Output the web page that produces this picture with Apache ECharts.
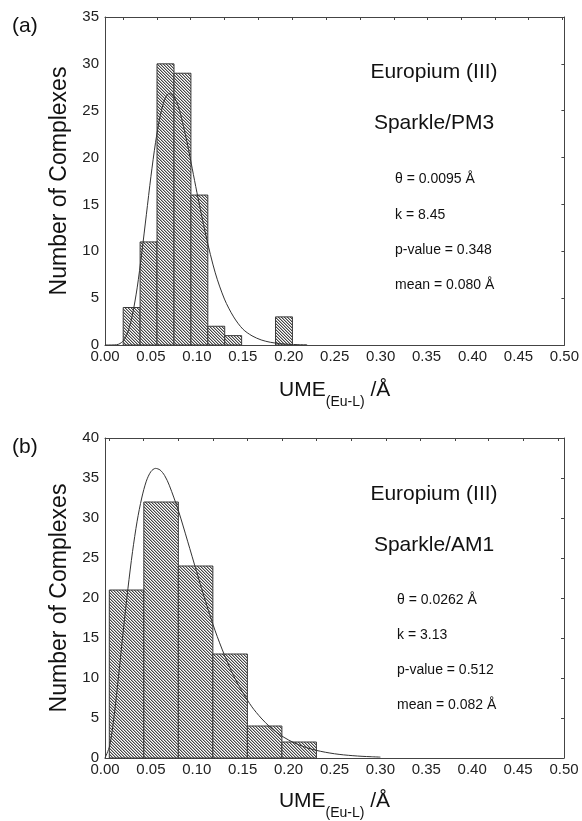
<!DOCTYPE html>
<html><head><meta charset="utf-8">
<script src="https://cdn.jsdelivr.net/npm/echarts@6/dist/echarts.min.js"></script>
<style>html,body{margin:0;padding:0;background:#fff}#c{width:582px;height:821px}</style>
</head><body><div id="c"></div>
<script>
// ---------- data ----------
const xTickLabels = ['0.00','0.05','0.10','0.15','0.20','0.25','0.30','0.35','0.40','0.45','0.50'];
const yTicksA = [0,5,10,15,20,25,30,35];
const yTicksB = [0,5,10,15,20,25,30,35,40];

// (a) Sparkle/PM3 histogram
const binEdgesA = [0.0198,0.0382,0.0566,0.0751,0.0935,0.1119,0.1303,0.1487,0.1672,0.1856,0.2040];
const countsA   = [4,11,30,29,16,2,1,0,0,3];
// (a) fitted curve
const curveAX = [0.000,0.010,0.015,0.020,0.025,0.030,0.035,0.040,0.045,0.050,0.055,0.060,0.065,0.070,0.075,0.080,0.085,0.090,0.095,0.100,0.110,0.120,0.130,0.140,0.150,0.160,0.170,0.180,0.190,0.200,0.210,0.220];
const curveAY = [0,0.01,0.09,0.46,1.4,3.3,6.1,9.8,13.9,18.0,21.6,24.4,26.2,26.85,26.5,25.4,23.5,21.3,18.8,16.3,11.6,7.7,4.9,3.0,1.7,0.98,0.54,0.29,0.15,0.08,0.04,0.02];
const topTicksA = [0.020,0.057,0.093,0.130,0.167,0.204,0.241,0.278,0.315,0.351,0.388,0.425,0.461,0.498];

// (b) Sparkle/AM1 histogram
const binEdgesB = [0.0047,0.0423,0.0799,0.1175,0.1551,0.1927,0.2303];
const countsB   = [21,32,24,13,4,2];
const curveBX = [0,0.005,0.01,0.015,0.02,0.025,0.03,0.035,0.04,0.045,0.05,0.055,0.06,0.065,0.07,0.08,0.09,0.10,0.11,0.12,0.13,0.14,0.15,0.16,0.17,0.18,0.19,0.20,0.21,0.22,0.23,0.24,0.25,0.26,0.27,0.28,0.29,0.30];
const curveBY = [0,1.5,5.3,10.5,16.0,21.2,25.8,29.6,32.5,34.6,35.8,36.2,36.0,35.3,34.1,30.9,27.1,23.2,19.4,15.9,12.9,10.3,8.2,6.4,5.0,3.85,2.95,2.25,1.7,1.28,0.96,0.72,0.53,0.39,0.29,0.21,0.16,0.11];
const topTicksB = [0.005,0.042,0.080,0.118,0.155,0.193,0.230,0.268,0.306,0.343,0.381,0.418,0.456,0.494];

const textA = ['Europium (III)','Sparkle/PM3','\u03b8 = 0.0095 \u00c5','k = 8.45','p-value = 0.348','mean = 0.080 \u00c5'];
const textB = ['Europium (III)','Sparkle/AM1','\u03b8 = 0.0262 \u00c5','k = 3.13','p-value = 0.512','mean = 0.082 \u00c5'];

// ---------- hatch pattern ----------
const pc = document.createElement('canvas');
pc.width = 3; pc.height = 3;
const pctx = pc.getContext('2d');
const img = pctx.createImageData(3,3);
for (let y=0;y<3;y++) for (let x=0;x<3;x++){
  const d = ((x - y) % 3 + 3) % 3;
  const v = d===0 ? 70 : (d===1 ? 175 : 255);
  const k = (y*3+x)*4;
  img.data[k]=v; img.data[k+1]=v; img.data[k+2]=v; img.data[k+3]=255;
}
pctx.putImageData(img,0,0);
const hatch = {image: pc, repeat: 'repeat'};

const FONT = 'Liberation Sans, Arial, sans-serif';
const AX = '#444';

function bars(edges, counts){ return counts.map((c,i)=>[edges[i],edges[i+1],c]).filter(d=>d[2]>0); }
function pairs(xs, ys){ return xs.map((x,i)=>[x,ys[i]]); }
function renderBar(params, api){
  const p0 = api.coord([api.value(0), api.value(2)]);
  const p1 = api.coord([api.value(1), 0]);
  return {type:'rect', shape:{x:p0[0], y:p0[1], width:p1[0]-p0[0], height:p1[1]-p0[1]},
    style:{fill:hatch, stroke:'#3a3a3a', lineWidth:1}};
}

const xName = '{a|UME}{s|(Eu-L)}{a| /\u00c5}';
const xNameStyle = {
  rich:{
    a:{fontSize:21, fontFamily:FONT, color:'#111', lineHeight:24, padding:[0,0,8,0], verticalAlign:'bottom'},
    s:{fontSize:14, fontFamily:FONT, color:'#111', lineHeight:16, verticalAlign:'bottom'}
  }
};

function xBottom(grid, gap){
  return {gridIndex:grid, type:'value', min:0, max:0.5, interval:0.05, position:'bottom',
    axisLine:{show:true, onZero:false, lineStyle:{color:AX, width:1}}, axisTick:{show:false}, splitLine:{show:false},
    axisLabel:{fontSize:15, fontFamily:FONT, color:'#222', margin:4, showMaxLabel:true,
      formatter:(v)=>xTickLabels[Math.round(v/0.05)]},
    name:xName, nameLocation:'middle', nameGap:gap, nameTextStyle:xNameStyle};
}
function xTop(grid, ticks){
  return {gridIndex:grid, type:'value', min:0, max:0.5, position:'top',
    axisLine:{show:true, onZero:false, lineStyle:{color:AX, width:1}},
    axisTick:{show:true, inside:true, length:3, lineStyle:{color:AX}, customValues:ticks},
    axisLabel:{show:false}, splitLine:{show:false}};
}
function yLeft(grid, ticks){
  return {gridIndex:grid, type:'value', min:0, max:ticks[ticks.length-1], interval:5, position:'left',
    axisLine:{show:true, onZero:false, lineStyle:{color:AX, width:1}}, axisTick:{show:false}, splitLine:{show:false},
    axisLabel:{fontSize:15, fontFamily:FONT, color:'#222', margin:6},
    name:'Number of Complexes', nameLocation:'middle', nameGap:28,
    nameTextStyle:{fontSize:23, fontFamily:FONT, color:'#111'}};
}
function yRight(grid, ticks){
  return {gridIndex:grid, type:'value', min:0, max:ticks[ticks.length-1], interval:5, position:'right',
    axisLine:{show:true, onZero:false, lineStyle:{color:AX, width:1}},
    axisTick:{show:true, inside:true, length:3, lineStyle:{color:AX}},
    axisLabel:{show:false}, splitLine:{show:false}};
}

function annot(texts, x0, ys, xs){
  const out = [];
  texts.forEach((t,i)=>{
    const big = i<2;
    out.push({type:'text', x: big ? x0 : xs, y: ys[i],
      style:{text:t, font: (big?'21px ':'14px ')+FONT, fill:'#111',
        textAlign: big?'center':'left', textVerticalAlign:'middle'}});
  });
  return out;
}

const chart = echarts.init(document.getElementById('c'), null, {renderer:'canvas'});
chart.setOption({
  animation:false,
  backgroundColor:'#fff',
  grid:[
    {left:105, top:17, width:462, height:328},
    {left:105, top:438, width:459, height:327}
  ],
  xAxis:[ xBottom(0,40), xTop(0, topTicksA), xBottom(1,38), xTop(1, topTicksB) ],
  yAxis:[ yLeft(0, yTicksA), yRight(0, yTicksA), yLeft(1, yTicksB), yRight(1, yTicksB) ],
  series:[
    {type:'custom', xAxisIndex:0, yAxisIndex:0, renderItem:renderBar, data:bars(binEdgesA,countsA), z:2},
    {type:'line', xAxisIndex:0, yAxisIndex:0, data:pairs(curveAX,curveAY), smooth:0.3, symbol:'none',
      lineStyle:{color:'#333', width:1}, z:3},
    {type:'custom', xAxisIndex:2, yAxisIndex:2, renderItem:renderBar, data:bars(binEdgesB,countsB), z:2},
    {type:'line', xAxisIndex:2, yAxisIndex:2, data:pairs(curveBX,curveBY), smooth:0.3, symbol:'none',
      lineStyle:{color:'#333', width:1}, z:3}
  ],
  graphic:[
    {type:'text', x:12, y:26, style:{text:'(a)', font:'21px '+FONT, fill:'#111', textVerticalAlign:'middle'}},
    {type:'text', x:12, y:447, style:{text:'(b)', font:'21px '+FONT, fill:'#111', textVerticalAlign:'middle'}},
    ...annot(textA, 434, [72,123,179,215,250,285], 395),
    ...annot(textB, 434, [494,545,600,635,670,705], 397)
  ]
});
</script></body></html>
